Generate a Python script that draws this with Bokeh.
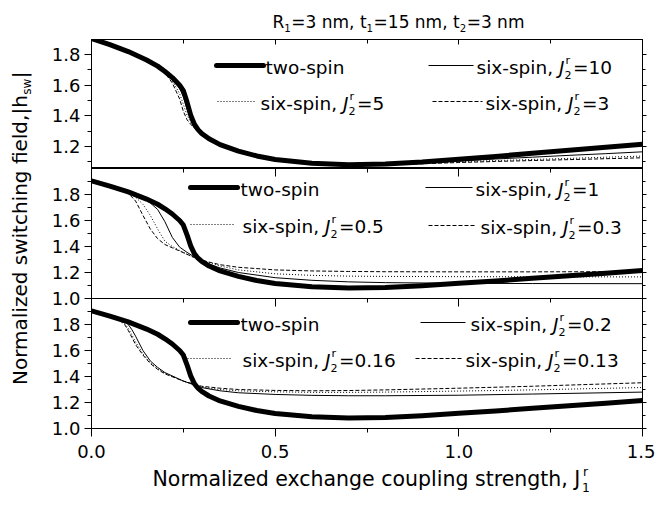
import math
from bokeh.plotting import figure
from bokeh.models import (Range1d, LinearAxis, FixedTicker, PrintfTickFormatter,
                          CustomJSTickFormatter, Label, Arrow)
from bokeh.layouts import column, row
from bokeh.embed import file_html
from bokeh.resources import INLINE

# ---------------- data ----------------
x_ticks_major = [0.0, 0.5, 1.0, 1.5]
x_ticks_minor = [0.25, 0.75, 1.25]
y_ticks_top = [1.2, 1.4, 1.6, 1.8]
y_ticks_top_minor = [1.1, 1.3, 1.5, 1.7, 1.9]
y_ticks_low = [1.0, 1.2, 1.4, 1.6, 1.8]
y_ticks_low_minor = [1.1, 1.3, 1.5, 1.7, 1.9]

title_parts = [("n", "R"), ("sub", "1"), ("n", "=3 nm, t"), ("sub", "1"),
               ("n", "=15 nm, t"), ("sub", "2"), ("n", "=3 nm")]
xlabel_parts = [("n", "Normalized exchange coupling strength, J"), ("ss", "1", "r")]
ylabel_parts = [("n", "Normalized switching field,|h"), ("sub", "sw"), ("n", "|")]

# two-spin model (same curve in every panel)
x_two = [0, 0.05, 0.1, 0.15, 0.18, 0.2, 0.22, 0.24, 0.25, 0.26, 0.27, 0.28, 0.29, 0.3,
         0.32, 0.35, 0.4, 0.45, 0.5, 0.6, 0.7, 0.8, 0.9, 1.0, 1.1, 1.2, 1.3, 1.4, 1.5]
y_two = [1.905, 1.865, 1.82, 1.765, 1.725, 1.69, 1.65, 1.60, 1.565, 1.49, 1.405, 1.345,
         1.31, 1.285, 1.25, 1.212, 1.17, 1.138, 1.115, 1.09, 1.08, 1.085, 1.098, 1.117,
         1.135, 1.155, 1.175, 1.195, 1.215]

# top panel: six-spin, J2r = 10, 5, 3
x_top = x_two
y_top_j10 = [1.905, 1.865, 1.82, 1.765, 1.725, 1.69, 1.645, 1.58, 1.525, 1.445, 1.38, 1.335,
             1.303, 1.283, 1.25, 1.212, 1.17, 1.138, 1.115, 1.09, 1.08, 1.083, 1.092, 1.105,
             1.118, 1.13, 1.142, 1.153, 1.165]
y_top_j5 = [1.905, 1.865, 1.82, 1.765, 1.725, 1.685, 1.63, 1.545, 1.475, 1.405, 1.36, 1.327,
            1.30, 1.282, 1.25, 1.212, 1.17, 1.138, 1.115, 1.09, 1.08, 1.082, 1.09, 1.10,
            1.108, 1.115, 1.122, 1.13, 1.137]
y_top_j3 = [1.905, 1.865, 1.82, 1.765, 1.72, 1.68, 1.615, 1.51, 1.43, 1.375, 1.345, 1.32,
            1.298, 1.281, 1.25, 1.212, 1.17, 1.138, 1.115, 1.09, 1.079, 1.08, 1.087, 1.095,
            1.102, 1.108, 1.114, 1.12, 1.126]

# middle panel: six-spin, J2r = 1, 0.5, 0.3
x_mid = [0, 0.05, 0.08, 0.1, 0.12, 0.14, 0.16, 0.18, 0.2, 0.22, 0.24, 0.26, 0.28, 0.3,
         0.32, 0.35, 0.4, 0.5, 0.6, 0.7, 0.8, 1.0, 1.2, 1.5]
y_mid_j1 = [1.905, 1.865, 1.84, 1.818, 1.795, 1.77, 1.735, 1.685, 1.59, 1.47, 1.395, 1.355,
            1.32, 1.29, 1.265, 1.235, 1.2, 1.16, 1.14, 1.128, 1.122, 1.117, 1.115, 1.114]
y_mid_j05 = [1.905, 1.865, 1.84, 1.815, 1.78, 1.725, 1.64, 1.535, 1.44, 1.40, 1.37, 1.34,
             1.315, 1.295, 1.275, 1.25, 1.22, 1.19, 1.178, 1.172, 1.17, 1.168, 1.167, 1.166]
y_mid_j03 = [1.905, 1.865, 1.84, 1.81, 1.75, 1.64, 1.535, 1.46, 1.415, 1.39, 1.365, 1.34,
             1.315, 1.295, 1.28, 1.26, 1.24, 1.22, 1.212, 1.208, 1.206, 1.205, 1.205, 1.207]

# bottom panel: six-spin, J2r = 0.2, 0.16, 0.13
x_bot = [0, 0.05, 0.07, 0.09, 0.1, 0.11, 0.12, 0.14, 0.16, 0.18, 0.2, 0.25, 0.3, 0.35,
         0.4, 0.5, 0.6, 0.7, 0.8, 1.0, 1.2, 1.5]
y_bot_j02 = [1.905, 1.865, 1.85, 1.825, 1.80, 1.76, 1.71, 1.60, 1.52, 1.47, 1.43, 1.365,
             1.315, 1.29, 1.275, 1.262, 1.255, 1.252, 1.252, 1.256, 1.265, 1.28]
y_bot_j016 = [1.905, 1.865, 1.85, 1.81, 1.77, 1.72, 1.665, 1.575, 1.505, 1.46, 1.425, 1.365,
              1.32, 1.30, 1.29, 1.282, 1.278, 1.278, 1.28, 1.288, 1.297, 1.315]
y_bot_j013 = [1.905, 1.865, 1.848, 1.80, 1.755, 1.70, 1.645, 1.565, 1.50, 1.455, 1.42, 1.365,
              1.325, 1.31, 1.30, 1.293, 1.29, 1.292, 1.297, 1.31, 1.325, 1.352]

labels_top = ["10", "5", "3"]
labels_mid = ["1", "0.5", "0.3"]
labels_bot = ["0.2", "0.16", "0.13"]

# ---------------- styling / layout ----------------
FONT = "DejaVu Sans"
STRIP_W = 38          # width of the y-label strip
W_MAIN = 617
FL = 91               # frame left (page px); column children share this frame edge
MID_SHIFT = 0.346     # text 'middle' anchor above baseline, in em
OVERLAP = 12          # middle panel canvas reaches this far below its frame
EMW = {' ': .318, ',': .318, '-': .361, '.': .318, '=': .838, '|': .337, 'J': .295,
       'N': .748, 'R': .695, 'a': .613, 'c': .550, 'd': .635, 'e': .615, 'f': .352,
       'g': .635, 'h': .634, 'i': .278, 'l': .278, 'm': .974, 'n': .634, 'o': .612,
       'p': .635, 'r': .411, 's': .521, 't': .392, 'u': .634, 'w': .818, 'x': .592,
       'z': .525}
for d in "0123456789":
    EMW[d] = .636


def tw(s):
    return sum(EMW.get(c, .6) for c in s)


def add_text(p, x, y, txt, size, angle, italic=False):
    # (x, y) is the baseline start point, screen units (y up)
    nx, ny = -math.sin(angle), math.cos(angle)
    k = MID_SHIFT * size
    p.add_layout(Label(x=x + k * nx, y=y + k * ny, x_units="screen", y_units="screen",
                       text=txt, text_font=FONT, text_font_size=f"{size:.1f}px",
                       text_color="black",
                       text_font_style="italic" if italic else "normal",
                       text_align="left", text_baseline="middle", angle=angle))


def rich(p, x0, y0, parts, size, angle=0.0):
    ca, sa = math.cos(angle), math.sin(angle)
    nx, ny = -sa, ca
    s = 0.0
    for item in parts:
        kind = item[0]
        if kind in ("n", "i"):
            add_text(p, x0 + s * ca, y0 + s * sa, item[1], size, angle, kind == "i")
            s += tw(item[1]) * size
        elif kind == "sub":
            ss = 0.6 * size
            d = -0.25 * size
            add_text(p, x0 + s * ca + d * nx, y0 + s * sa + d * ny, item[1], ss, angle)
            s += tw(item[1]) * ss + 0.5
        elif kind == "ss":
            ss = 0.6 * size
            d = -0.28 * size
            u = 0.5 * size
            add_text(p, x0 + s * ca + d * nx, y0 + s * sa + d * ny, item[1], ss, angle)
            add_text(p, x0 + (s + 1) * ca + u * nx, y0 + (s + 1) * sa + u * ny, item[2], ss, angle)
            s += max(tw(item[1]), tw(item[2])) * ss + 1.5
    return s


def strip(width, height, **kw):
    f = figure(width=width, height=height, x_range=Range1d(0, 1), y_range=Range1d(0, 1),
               output_backend="svg", toolbar_location=None,
               x_axis_location=None, y_axis_location=None, **kw)
    f.grid.visible = False
    f.outline_line_color = None
    f.background_fill_color = None
    f.border_fill_color = None
    return f


def empty_axis(ticker, **kw):
    return LinearAxis(ticker=ticker, formatter=CustomJSTickFormatter(code="return ''"),
                      major_label_text_font_size="0px", major_label_standoff=0,
                      axis_line_color="black", major_tick_line_color="black",
                      minor_tick_line_color="black", **kw)


def make_panel(y_range, yt, ytm, height, mb_bottom, top_in_major, top_in_minor):
    p = figure(width=W_MAIN, height=height, x_range=Range1d(0, 1.5), y_range=y_range,
               output_backend="svg", toolbar_location=None,
               x_axis_location=None, y_axis_location=None,
               min_border_left=FL - STRIP_W, min_border_right=13,
               min_border_top=0, min_border_bottom=mb_bottom)
    p.grid.visible = False
    p.outline_line_color = "black"
    p.outline_line_width = 1
    p.background_fill_color = None
    p.border_fill_color = None
    left = LinearAxis(ticker=FixedTicker(ticks=yt, minor_ticks=ytm),
                      formatter=PrintfTickFormatter(format="%.1f"),
                      major_tick_in=0, major_tick_out=7, minor_tick_in=0, minor_tick_out=4,
                      major_label_text_font=FONT, major_label_text_font_size="18px",
                      major_label_standoff=4, major_label_text_color="black",
                      axis_line_color="black", major_tick_line_color="black",
                      minor_tick_line_color="black")
    p.add_layout(left, "left")
    p.add_layout(empty_axis(FixedTicker(ticks=yt, minor_ticks=ytm), major_tick_in=0,
                            major_tick_out=4, minor_tick_in=0, minor_tick_out=3), "right")
    p.add_layout(empty_axis(FixedTicker(ticks=x_ticks_major, minor_ticks=x_ticks_minor),
                            major_tick_in=top_in_major, major_tick_out=0,
                            minor_tick_in=top_in_minor, minor_tick_out=0), "above")
    return p


def curves(p, xs, ys_list):
    dashes = ["solid", "1 2", "4 2"]
    for ys, dash in zip(ys_list, dashes):
        p.line(xs, ys, line_width=1, line_color="black", line_dash=dash)
    p.line(x_two, y_two, line_width=5, line_color="black", line_join="round")


def legend(p, frame_bottom, entries):
    # entries: (x1, x2, y, dash, width, text_x, parts) in page px
    for x1, x2, y, dash, lw, tx, parts in entries:
        p.add_layout(Arrow(end=None, x_start=x1 - FL, y_start=frame_bottom - y,
                           x_end=x2 - FL, y_end=frame_bottom - y,
                           start_units="screen", end_units="screen",
                           line_color="black", line_width=lw, line_dash=dash,
                           line_cap="round" if lw > 2 else "butt"))
        rich(p, tx - FL, frame_bottom - (y + 8.5), parts, 18.5)


def six(j):
    return [("n", "six-spin, "), ("i", "J"), ("ss", "2", "r"), ("n", "=" + j)]


TWO = [("n", "two-spin")]

# ---- title strip (page y 0..39); frame aligned with the panels ----
ptitle = strip(W_MAIN, 39, min_border_left=FL - STRIP_W, min_border_right=13,
               min_border_top=0, min_border_bottom=0)
rich(ptitle, 272 - FL, 39 - 27, title_parts, 17)

# ---- top panel (frame 39..168) ----
ptop = make_panel(Range1d(1.056, 1.899), y_ticks_top, y_ticks_top_minor, 129, 0, 5, 4)
curves(ptop, x_top, [y_top_j10, y_top_j5, y_top_j3])
legend(ptop, 168, [
    (216, 263, 65, "solid", 5, 265, TWO),
    (428, 473, 65, "solid", 1, 476, six(labels_top[0])),
    (217, 255, 101, "1 2", 1, 260, six(labels_top[1])),
    (432, 482, 101, "4 2", 1, 485, six(labels_top[2])),
])

# ---- middle panel (frame 168..298) ----
pmid = make_panel(Range1d(1.0, 2.0), y_ticks_low, y_ticks_low_minor, 130 + OVERLAP,
                  OVERLAP, 8, 4)
pmid.styles = {"z-index": "1", "position": "relative"}
curves(pmid, x_mid, [y_mid_j1, y_mid_j05, y_mid_j03])
legend(pmid, 298, [
    (190, 237, 187, "solid", 5, 240, TWO),
    (425, 472, 187, "solid", 1, 475, six(labels_mid[0])),
    (190, 235, 224, "1 2", 1, 242, six(labels_mid[1])),
    (428, 475, 225, "4 2", 1, 480, six(labels_mid[2])),
])

# ---- bottom panel (frame 298..428) ----
pbot = make_panel(Range1d(1.0, 2.0), y_ticks_low, y_ticks_low_minor, 170, 40, 8, 4)
pbot.margin = (-OVERLAP, 0, 0, 0)
pbot.add_layout(LinearAxis(ticker=FixedTicker(ticks=x_ticks_major, minor_ticks=x_ticks_minor),
                           formatter=PrintfTickFormatter(format="%.1f"),
                           major_tick_in=0, major_tick_out=8, minor_tick_in=0, minor_tick_out=4,
                           major_label_text_font=FONT, major_label_text_font_size="18px",
                           major_label_standoff=8, major_label_text_color="black",
                           axis_line_color="black", major_tick_line_color="black",
                           minor_tick_line_color="black"), "below")
curves(pbot, x_bot, [y_bot_j02, y_bot_j016, y_bot_j013])
legend(pbot, 428, [
    (190, 237, 322, "solid", 5, 240, TWO),
    (420, 465, 322, "solid", 1, 470, six(labels_bot[0])),
    (187, 232, 358, "1 2", 1, 242, six(labels_bot[1])),
    (415, 462, 358, "4 2", 1, 465, six(labels_bot[2])),
])

# ---- x label strip (page y 460..506, overlapping the empty bottom border) ----
pxl = strip(W_MAIN, 46, min_border_left=FL - STRIP_W, min_border_right=13,
            min_border_top=0, min_border_bottom=0)
pxl.margin = (-8, 0, 0, 0)
pxl.styles = {"z-index": "1", "position": "relative"}
rich(pxl, 152 - FL, 506 - 486, xlabel_parts, 20.5)

# ---- y label strip ----
ylab = strip(STRIP_W, 506, min_border=0)
YL_SIZE = 20
ylen = tw("Normalized switching field,|h") * YL_SIZE + tw("sw") * YL_SIZE * 0.6 + tw("|") * YL_SIZE
y_start = 228 + ylen / 2
rich(ylab, 26, 506 - y_start, ylabel_parts, YL_SIZE, angle=math.pi / 2)

layout = row(ylab, column(ptitle, ptop, pmid, pbot, pxl))
open("out.html", "w").write(file_html(layout, INLINE))
